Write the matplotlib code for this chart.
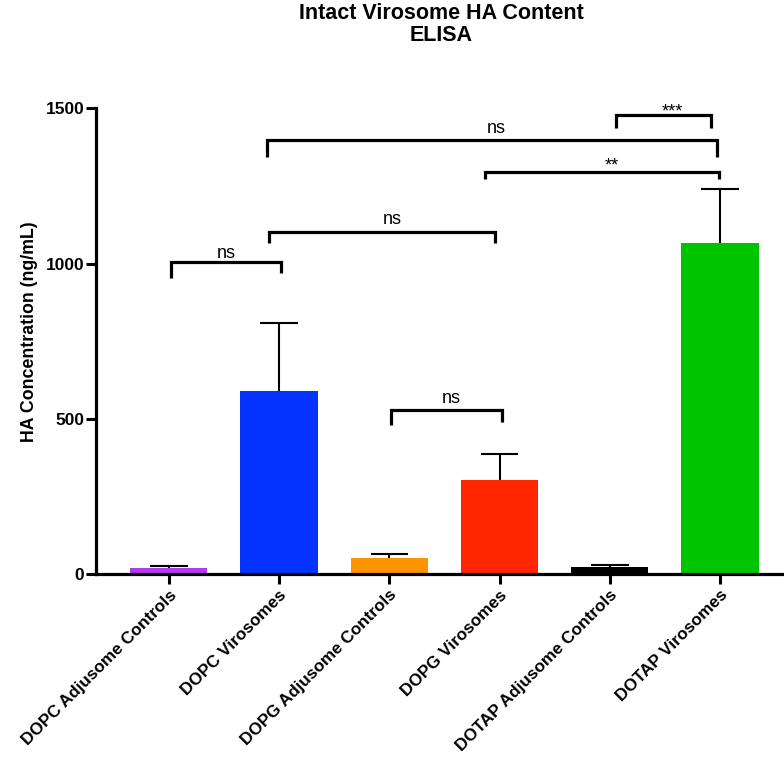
import matplotlib
matplotlib.use("Agg")
import matplotlib.pyplot as plt
import numpy as np

plt.rcParams['font.family'] = ['Liberation Sans', 'DejaVu Sans']

categories = ["DOPC Adjusome Controls", "DOPC Virosomes", "DOPG Adjusome Controls",
              "DOPG Virosomes", "DOTAP Adjusome Controls", "DOTAP Virosomes"]
means = [20, 589, 52, 304, 22, 1065]
errors = [7, 219, 12, 81, 8, 174]
colors = ["#B23AEE", "#0433FF", "#FF9300", "#FF2600", "#000000", "#00C400"]

# brackets: (x_left, x_right, y_line, y_tip_left, y_tip_right, label, label_x, label_y)
brackets = [
    (0.02, 1.02, 1004, 955, 970, "ns", 0.52, 1017),
    (0.91, 2.96, 1102, 1066, 1066, "ns", 2.03, 1127),
    (0.89, 4.97, 1398, 1344, 1344, "ns", 2.97, 1421),
    (2.87, 4.99, 1296, 1271, 1271, "**", 4.02, 1299),
    (4.06, 4.92, 1478, 1435, 1435, "***", 4.57, 1475),
    (2.02, 3.02, 528, 480, 490, "ns", 2.56, 550),
]

fig = plt.figure(figsize=(7.84, 7.57), dpi=100)
ax = fig.add_axes([96/784, 1-574/757, 1-96/784, (574-108.3)/757])

x = np.arange(len(categories))
ax.bar(x, means, width=0.70, color=colors, edgecolor='none', zorder=2)
cap = 0.17
ax.vlines(x, means, np.array(means) + np.array(errors), color='black', lw=1.5, zorder=3)
ax.hlines(np.array(means) + np.array(errors), x - cap, x + cap, color='black', lw=1.5, zorder=3)

for (xl, xr, yl, tl, tr, lab, lx, ly) in brackets:
    ax.plot([xl, xl, xr, xr], [tl, yl, yl, tr], color='black', lw=2.3,
            solid_joinstyle='miter', solid_capstyle='butt', clip_on=False, zorder=4)
    ax.text(lx, ly, lab, ha='center', va='baseline', fontsize=13, clip_on=False)

ax.set_xlim(-0.66, 5.58)
ax.set_ylim(0, 1500)
ax.set_yticks([0, 500, 1000, 1500])
ax.set_yticklabels(["0", "500", "1000", "1500"], fontweight='bold', fontsize=12.5)
ax.set_xticks(x)
ax.set_xticklabels(categories, rotation=45, ha='right', va='top', rotation_mode='anchor',
                   fontweight='bold', fontsize=12.3)
ax.tick_params(axis='y', length=7, width=2.2, pad=1.5)
ax.tick_params(axis='x', length=7, width=2.2, pad=2.5)
for s in ['top', 'right']:
    ax.spines[s].set_visible(False)
for s in ['left', 'bottom']:
    ax.spines[s].set_linewidth(2.3)
ax.set_ylabel("HA Concentration (ng/mL)", fontweight='bold', fontsize=12.8)
ax.yaxis.set_label_coords(-0.084, 0.52)

fig.text(441/784, 1-3/757, "Intact Virosome HA Content\nELISA", ha='center', va='top',
         fontsize=15.5, fontweight='bold', linespacing=1.05)

fig.savefig("out.png", dpi=100)
